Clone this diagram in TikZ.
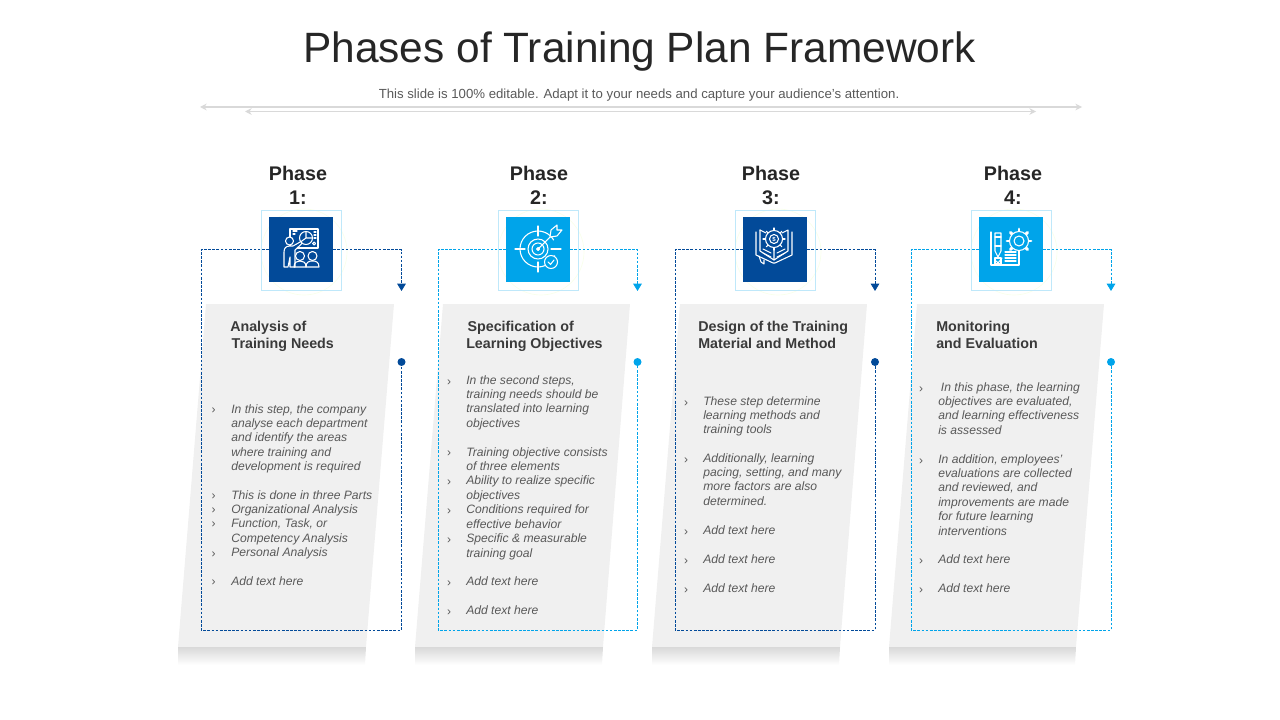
\documentclass[tikz,border=0pt]{standalone}
\usepackage{fontspec}
\usepackage{amsmath}
\setmainfont{Liberation Sans}
\usetikzlibrary{arrows.meta}

\definecolor{darkphase}{HTML}{024A99}
\definecolor{lightphase}{HTML}{00A4EA}
\definecolor{cardgray}{HTML}{F0F0F0}
\definecolor{rulegray}{HTML}{D9D9D9}
\definecolor{inkdark}{HTML}{262626}
\definecolor{inkhead}{HTML}{3A3A3A}
\definecolor{inkbody}{HTML}{595959}

\tikzset{
  card/.style={fill=cardgray, draw=none},
  cardshadow/.style={top color=black!15, bottom color=white, draw=none},
  toprule/.style={draw=rulegray, line width=0.8pt, {Stealth[length=5pt,width=5pt]}-{Stealth[length=5pt,width=5pt]}},
  phaselabel/.style={font=\fontsize{14.8}{18}\selectfont\bfseries, text=inkdark, align=center, inner sep=0pt},
  cardhead/.style={font=\fontsize{10.7}{12}\selectfont\bfseries, text=inkhead, align=left, anchor=north west, inner sep=0pt},
  cardtext/.style={font=\fontsize{9.1}{10.85}\selectfont\itshape, text=inkbody, align=left, anchor=north west, inner sep=0pt},
  bulletmark/.style={font=\fontsize{9}{11}\selectfont, text=inkbody, inner sep=0pt, yshift=-1pt},
  iconbox/.style={minimum size=48pt, inner sep=0pt, draw=none},
  halobox/.style={minimum size=60pt, inner sep=0pt, draw=lightphase!25, line width=0.5pt},
  halo/.style={draw=green!35!yellow!8, line width=0.5pt},
  dashframe/.style={dash pattern=on 2pt off 1.1pt, line width=0.6pt},
  tipend/.style={-{Triangle[length=5.5pt,width=6.5pt]}},
  enddot/.style={circle, minimum size=6pt, inner sep=0pt},
  iconline/.style={draw=white, line width=0.8pt, line join=round, line cap=round},
}

\begin{document}
\begin{tikzpicture}[x=0.75pt,y=-0.75pt]
\useasboundingbox (0,0) rectangle (1280,720);

% title
\node[font=\fontsize{31.8}{38}\selectfont, text=inkdark, inner sep=0pt] (title) at (639.5,51.5) {Phases of Training Plan Framework};
\node[font=\fontsize{9.9}{12}\selectfont, text=inkbody, inner sep=0pt] (subtitle) at (639,95) {This slide is 100\% editable. Adapt it to your needs and capture your audience's attention.};
\coordinate (ruleAl) at (200,107);
\coordinate (ruleAr) at (1082,107);
\coordinate (ruleBl) at (245,111.5);
\coordinate (ruleBr) at (1036,111.5);
\draw[toprule] (ruleAl) -- (ruleAr);
\draw[toprule] (ruleBl) -- (ruleBr);

% phase 1
\begin{scope}
\fill[card] (206,304) -- (394,304) -- (366,647) -- (178,647) -- cycle;
\shade[cardshadow] (178,647) -- (366,647) -- (365,665) -- (178,665) -- cycle;
\draw[halo] (304,252) circle (43);
\node[halobox] (halo1) at (301.5,250.5) {};
\node[iconbox, fill=darkphase] (box1) at (301,249.5) {};
\coordinate (corner1) at (201,630);
\coordinate (tip1) at (401.5,291);
\node[enddot, fill=darkphase] (dot1) at (401.5,362) {};
\draw[dashframe, draw=darkphase] (box1.west) -| (corner1) -| (dot1);
\draw[dashframe, draw=darkphase, tipend] (box1.east) -| (tip1);
\end{scope}

% phase 2
\begin{scope}[shift={(237,0)}]
\fill[card] (206,304) -- (393,304) -- (366,647) -- (178,647) -- cycle;
\shade[cardshadow] (178,647) -- (366,647) -- (365,665) -- (178,665) -- cycle;
\draw[halo] (304,252) circle (43);
\node[halobox] (halo2) at (301.5,250.5) {};
\node[iconbox, fill=lightphase] (box2) at (301,249.5) {};
\coordinate (corner2) at (201,630);
\coordinate (tip2) at (400.5,291);
\node[enddot, fill=lightphase] (dot2) at (400.5,362) {};
\draw[dashframe, draw=lightphase] (box2.west) -| (corner2) -| (dot2);
\draw[dashframe, draw=lightphase, tipend] (box2.east) -| (tip2);
\end{scope}

% phase 3
\begin{scope}[shift={(474,0)}]
\fill[card] (206,304) -- (393,304) -- (366,647) -- (178,647) -- cycle;
\shade[cardshadow] (178,647) -- (366,647) -- (365,665) -- (178,665) -- cycle;
\draw[halo] (304,252) circle (43);
\node[halobox] (halo3) at (301.5,250.5) {};
\node[iconbox, fill=darkphase] (box3) at (301,249.5) {};
\coordinate (corner3) at (201,630);
\coordinate (tip3) at (401,291);
\node[enddot, fill=darkphase] (dot3) at (401,362) {};
\draw[dashframe, draw=darkphase] (box3.west) -| (corner3) -| (dot3);
\draw[dashframe, draw=darkphase, tipend] (box3.east) -| (tip3);
\end{scope}

% phase 4
\begin{scope}[shift={(710,0)}]
\fill[card] (207,304) -- (394,304) -- (366,647) -- (179,647) -- cycle;
\shade[cardshadow] (179,647) -- (366,647) -- (365,665) -- (179,665) -- cycle;
\draw[halo] (304,252) circle (43);
\node[halobox] (halo4) at (301.5,250.5) {};
\node[iconbox, fill=lightphase] (box4) at (301,249.5) {};
\coordinate (corner4) at (201,630);
\coordinate (tip4) at (401,291);
\node[enddot, fill=lightphase] (dot4) at (401,362) {};
\draw[dashframe, draw=lightphase] (box4.west) -| (corner4) -| (dot4);
\draw[dashframe, draw=lightphase, tipend] (box4.east) -| (tip4);
\end{scope}

% labels
\node[phaselabel] (label1) at (298,185) {Phase\\1:};
\node[phaselabel] (label2) at (539,185) {Phase\\2:};
\node[phaselabel] (label3) at (771,185) {Phase\\3:};
\node[phaselabel] (label4) at (1013,185) {Phase\\4:};

% icon 1: trainer at a board
\draw[iconline] (290,229) rectangle (318,248);
\draw[iconline] (306,238) circle (6.5);
\draw[iconline] (306,238) -- (306,231.5) (306,238) -- (312.5,238) (306,238) -- (300.5,242);
\draw[iconline] (293,231) -- (297,231) (293,234) -- (295,234);
\draw[iconline] (314,232) -- (316,232) (314,235) -- (316,235) (314,238) -- (316,238);
\draw[iconline] (314,243.5) circle (1.5);
\draw[iconline, fill=darkphase] (293,246) -- (301,241.5) -- (302,243.5) -- (295,250) -- (295,267) -- (290,267) -- (290,257) -- (288,267) -- (284,267) -- (284,252) .. controls (284,248) and (286,246) .. (290,246) -- cycle;
\draw[iconline, fill=darkphase] (289.5,241) circle (4);
\draw[iconline] (300,256) circle (4.5) (312.5,256) circle (4.5);
\draw[iconline] (294,267) .. controls (294,262) and (297,261) .. (300,261) .. controls (303,261) and (306,262) .. (306,267) -- cycle;
\draw[iconline] (306,267) .. controls (306,262) and (309,261) .. (312.5,261) .. controls (316,261) and (319,262) .. (319,267) -- (306,267);

% icon 2: target with arrow
\begin{scope}[shift={(538,249)}]
\draw[iconline] (0,0) circle (10) (0,0) circle (6);
\draw[iconline, fill=white] (0,0) circle (1.5);
\draw[iconline] (22:18) arc (22:330:18);
\draw[iconline] (-23,0) -- (-13,0) (13,0) -- (23,0) (0,-23) -- (0,-13) (0,13) -- (0,23);
\draw[iconline] (0,0) -- (15,-15);
\draw[iconline, fill=lightphase] (12,-12) -- (13,-19) -- (19,-24) -- (19,-19) -- (24,-19) -- (19,-13) -- cycle;
\draw[iconline, fill=lightphase] (13,13) circle (6.5);
\draw[iconline] (10,13) -- (12.5,15.5) -- (16,11);
\end{scope}

% icon 3: open book and gear
\begin{scope}[shift={(774,249)}]
\draw[iconline] (-18,-17) -- (-18,6) -- (-1,14) -- (1,14) -- (18,6) -- (18,-17);
\draw[iconline] (-14,-19) -- (-14,2) -- (0,11) -- (14,2) -- (14,-19) -- (8,-16);
\draw[iconline] (-14,-19) -- (-8,-16) (0,11) -- (0,-2);
\draw[iconline, fill=darkphase] (0,-10) circle (8.5);
\foreach \a in {0,45,...,315} \draw[iconline] ([shift={(0,-10)}]\a:8.5) -- ([shift={(0,-10)}]\a:11);
\draw[iconline] (0,-10) circle (4.5);
\node[font=\fontsize{4.5}{5}\selectfont\bfseries, text=white, inner sep=0pt] (dollar) at (0,-10) {\$};
\foreach \y in {0,4} \draw[iconline] (-11,\y) -- (-3,\y+4) (3,\y+4) -- (11,\y);
\draw[iconline] (-15,7) -- (-13,13) -- (-10,15) -- (-10,11);
\end{scope}

% icon 4: checklist and gear
\begin{scope}[shift={(1011,249)}]
\draw[iconline] (-20,-17) -- (-20,16) -- (8,16) -- (8,-4);
\draw[iconline] (-16,-16) -- (-16,2) -- (-13,8) -- (-10,2) -- (-10,-16) -- cycle;
\draw[iconline] (-16,-12) -- (-10,-12) (-16,-3) -- (-10,-3);
\draw[iconline] (-16,9) rectangle (-10,15);
\draw[iconline] (-15,12) -- (-13,14) -- (-9,9);
\draw[iconline] (-6,3) -- (5,3) (-6,6) -- (5,6) (-6,9) -- (5,9) (-6,12) -- (5,12);
\foreach \a in {0,45,...,315} \draw[iconline, line width=2.2pt] ([shift={(8,-8)}]\a:9) -- ([shift={(8,-8)}]\a:12);
\draw[iconline, fill=lightphase] (8,-8) circle (9.5);
\draw[iconline, fill=lightphase] (8,-8) circle (5);
\end{scope}

% phase 1 text
\node[cardhead] (head1) at (230,321) {Analysis of\\[0.5pt]\hspace*{1pt}Training Needs};
\foreach \y in {409,495,509,523,553,581} \node[bulletmark] (bullet1-\y) at (213.5,\y) {›};
\node[cardtext] (text1a) at (231,404) {In this step, the company\\analyse each department\\and identify the areas\\where training and\\development is required};
\node[cardtext] (text1b) at (231,490) {This is done in three Parts\\Organizational Analysis\\Function, Task, or\\Competency Analysis\\Personal Analysis};
\node[cardtext] (text1c) at (231,576) {Add text here};

% phase 2 text
\node[cardhead] (head2) at (466,321) {\hspace*{1pt}Specification of\\[0.5pt]Learning Objectives};
\foreach \y in {381,452,481,510,539,582,611} \node[bulletmark] (bullet2-\y) at (449,\y) {›};
\node[cardtext] (text2a) at (466,375) {In the second steps,\\training needs should be\\translated into learning\\objectives};
\node[cardtext] (text2b) at (466,447) {Training objective consists\\of three elements\\Ability to realize specific\\objectives\\Conditions required for\\effective behavior\\Specific \& measurable\\training goal};
\node[cardtext] (text2c) at (466,576) {Add text here};
\node[cardtext] (text2d) at (466,605) {Add text here};

% phase 3 text
\node[cardhead] (head3) at (698,321) {Design of the Training\\[0.5pt]Material and Method};
\foreach \y in {402,459,531,560,589} \node[bulletmark] (bullet3-\y) at (686,\y) {›};
\node[cardtext] (text3a) at (703,396) {These step determine\\learning methods and\\training tools};
\node[cardtext] (text3b) at (703,453) {Additionally, learning\\pacing, setting, and many\\more factors are also\\determined.};
\node[cardtext] (text3c) at (703,525) {Add text here};
\node[cardtext] (text3d) at (703,554) {Add text here};
\node[cardtext] (text3e) at (703,583) {Add text here};

% phase 4 text
\node[cardhead] (head4) at (936,321) {Monitoring\\[0.5pt]and Evaluation};
\foreach \y in {388,460,560,589} \node[bulletmark] (bullet4-\y) at (921,\y) {›};
\node[cardtext] (text4a) at (938,382) {\hspace*{2pt}In this phase, the learning\\objectives are evaluated,\\and learning effectiveness\\is assessed};
\node[cardtext] (text4b) at (938,454) {In addition, employees'\\evaluations are collected\\and reviewed, and\\improvements are made\\for future learning\\interventions};
\node[cardtext] (text4c) at (938,554) {Add text here};
\node[cardtext] (text4d) at (938,583) {Add text here};
\end{tikzpicture}
\end{document}
